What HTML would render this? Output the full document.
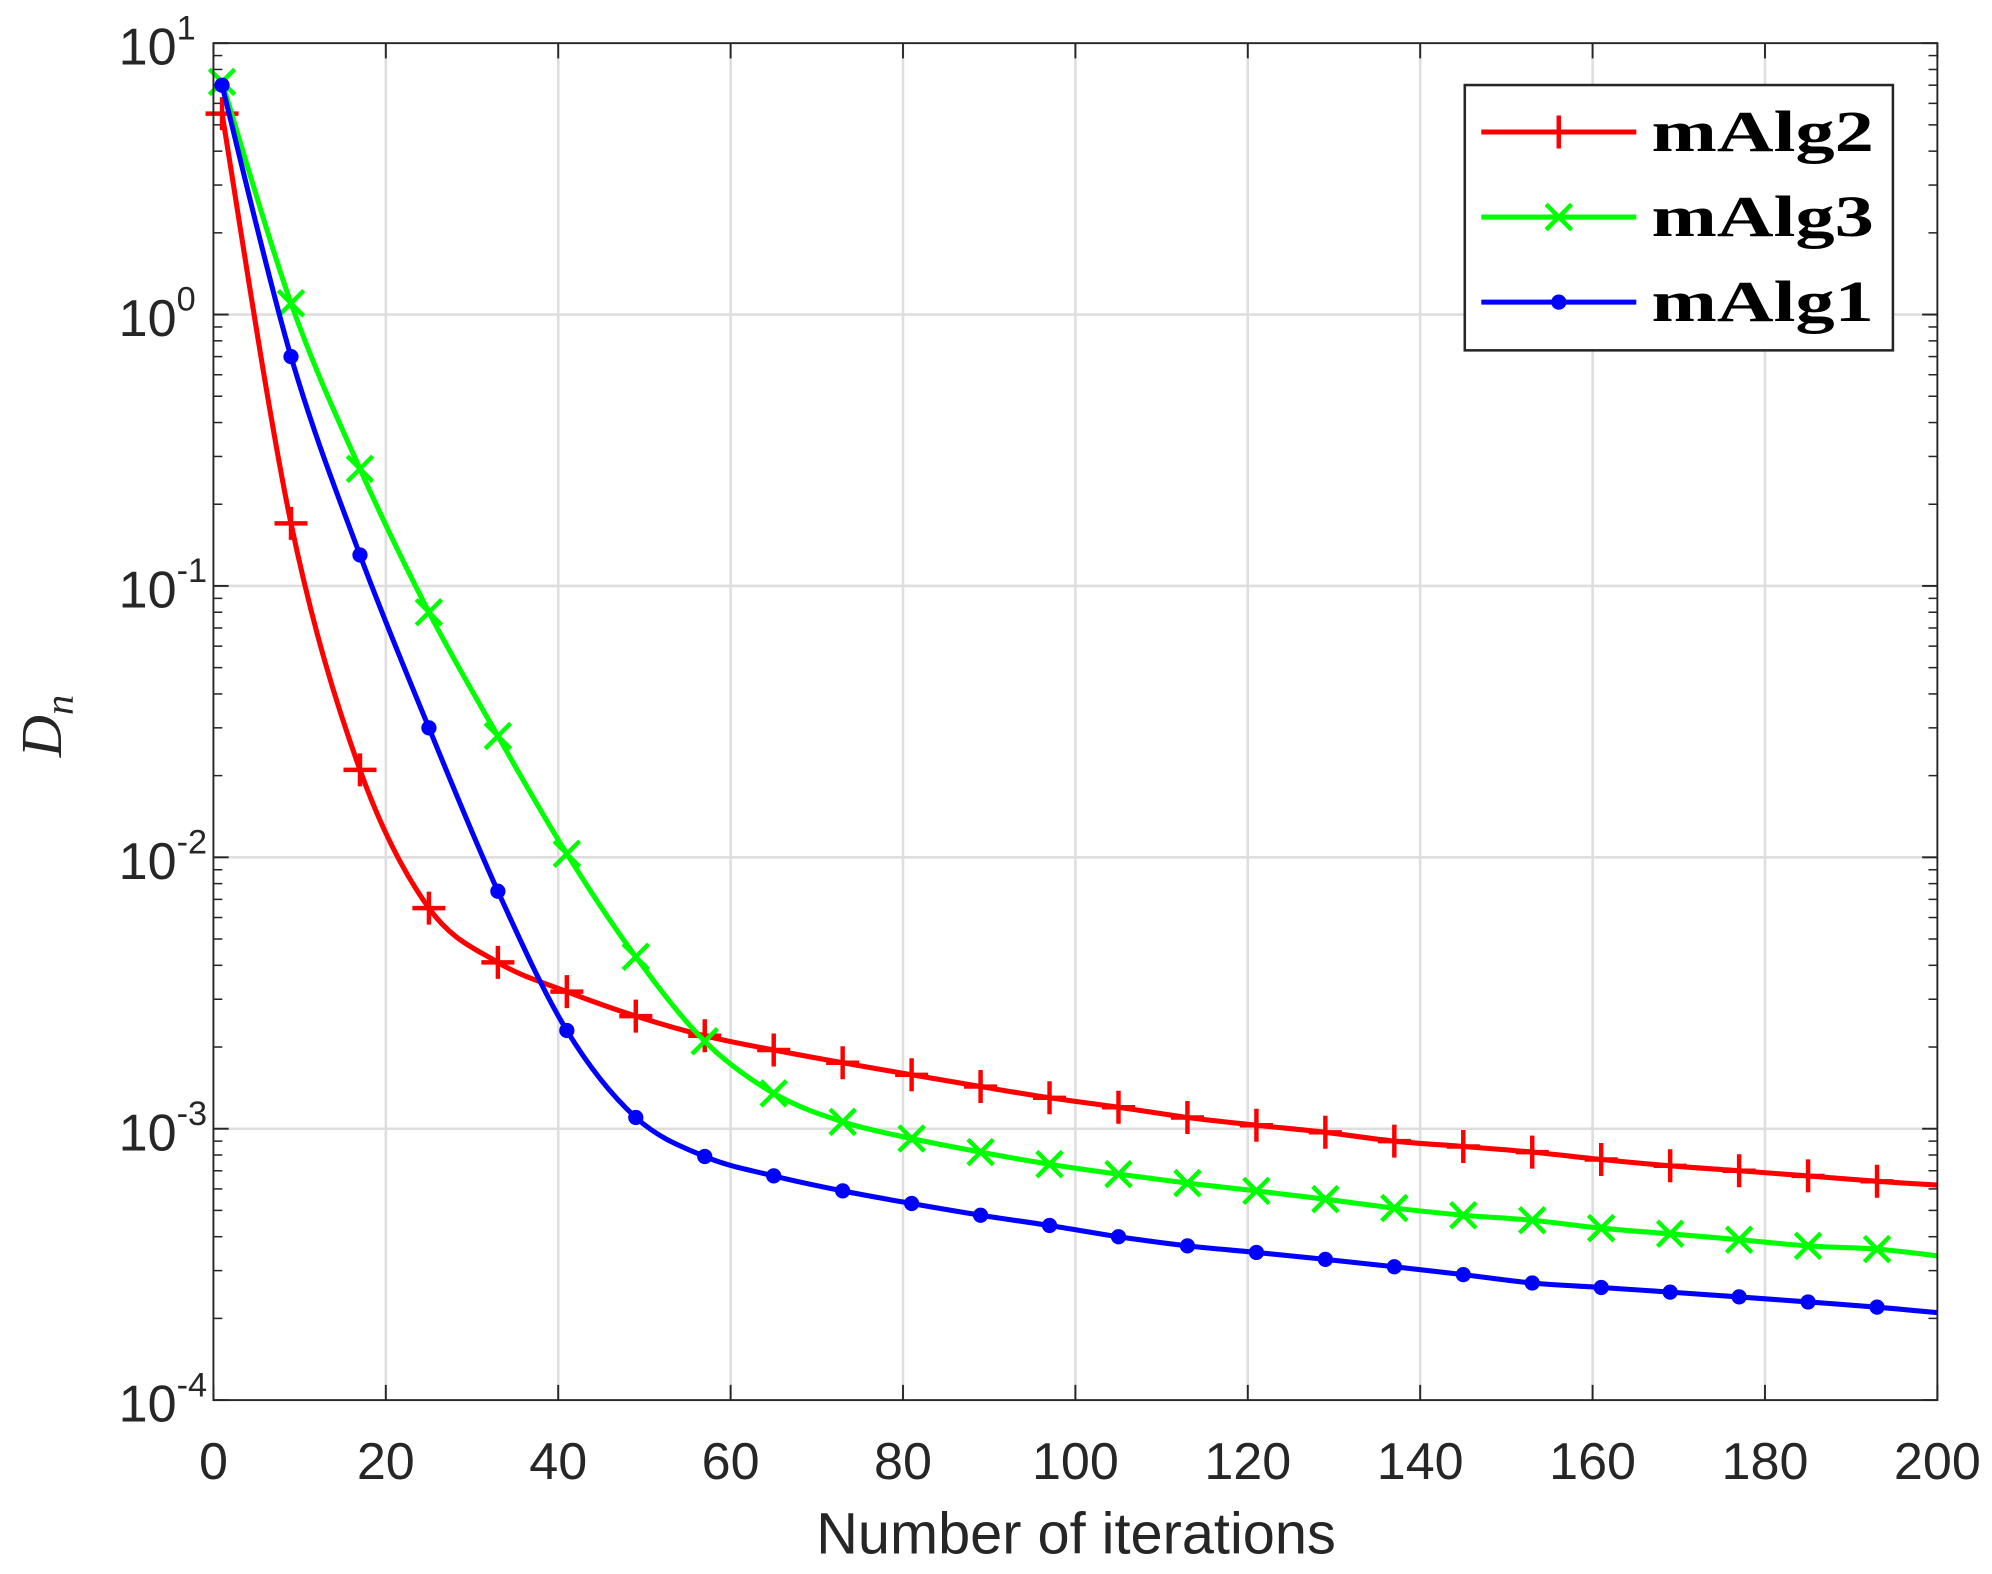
<!DOCTYPE html>
<html><head><meta charset="utf-8"><style>
html,body{margin:0;padding:0;background:#fff;}
svg{display:block;}
text{fill:#262626;}
.s{font-family:"Liberation Sans",sans-serif;}
.r{font-family:"Liberation Serif",serif;}
</style></head><body>
<svg id="s" width="1992" height="1574" viewBox="0 0 1568 1240" preserveAspectRatio="none" xmlns="http://www.w3.org/2000/svg">
<rect x="0" y="0" width="1568" height="1240" fill="#fff"/>
<g id="grid"></g>
<g id="ticks"></g>
<g id="series"></g>
<rect x="168" y="34" width="1357" height="1069" fill="none" stroke="#262626" stroke-width="1.5"/>
<g id="labels" font-size="41" class="s"></g>
<text class="s" x="847" y="1224" font-size="46" text-anchor="middle" textLength="409" lengthAdjust="spacingAndGlyphs">Number of iterations</text>
<text class="r" transform="translate(48,572) rotate(-90)" font-size="46" font-style="italic" text-anchor="middle">D<tspan font-size="32" dy="9">n</tspan></text>
<g id="legend">
<rect x="1153" y="67" width="337" height="209" fill="#fff" stroke="#262626" stroke-width="2"/>
</g>
</svg>
<script>
var NS="http://www.w3.org/2000/svg",L=168,R=1525,T=34,B=1103;
function px(x){return L+x*(R-L)/200}
function py(v){return T+(1-Math.log10(v))*(B-T)/5}
function el(p,n,a,t){var e=document.createElementNS(NS,n);for(var k in a)e.setAttribute(k,a[k]);if(t)e.textContent=t;document.getElementById(p).appendChild(e);return e}
for(var x=0;x<=200;x+=20){var X=px(x);if(x>0&&x<200)el("grid","line",{x1:X,x2:X,y1:T,y2:B,stroke:"#dedede","stroke-width":2});
el("ticks","line",{x1:X,x2:X,y1:B,y2:B-12,stroke:"#262626","stroke-width":1.5});el("ticks","line",{x1:X,x2:X,y1:T,y2:T+12,stroke:"#262626","stroke-width":1.5});
el("labels","text",{x:X,y:1165,"text-anchor":"middle"},""+x);}
for(var d=-4;d<=1;d++){var Y=py(Math.pow(10,d));if(d>-4&&d<1)el("grid","line",{x1:L,x2:R,y1:Y,y2:Y,stroke:"#dedede","stroke-width":2});
el("ticks","line",{x1:L,x2:L+12,y1:Y,y2:Y,stroke:"#262626","stroke-width":1.5});el("ticks","line",{x1:R,x2:R-12,y1:Y,y2:Y,stroke:"#262626","stroke-width":1.5});
el("labels","text",{x:139,y:Y+17,"text-anchor":"end"},"10");
el("labels","text",{x:139,y:Y-3,"font-size":27},""+d);
if(d<1)for(var m=2;m<=9;m++){var Ym=py(m*Math.pow(10,d));el("ticks","line",{x1:L,x2:L+7,y1:Ym,y2:Ym,stroke:"#262626","stroke-width":1.2});el("ticks","line",{x1:R,x2:R-7,y1:Ym,y2:Ym,stroke:"#262626","stroke-width":1.2});}}
var xs=[1,9,17,25,33,41,49,57,65,73,81,89,97,105,113,121,129,137,145,153,161,169,177,185,193,200];
var red=[5.5,0.17,0.021,0.0065,0.0041,0.0032,0.0026,0.0022,0.00195,0.00175,0.00158,0.00143,0.0013,0.0012,0.0011,0.00103,0.00097,0.0009,0.00086,0.00082,0.00077,0.00073,0.0007,0.00067,0.00064,0.00062];
var grn=[7.2,1.1,0.27,0.08,0.028,0.0103,0.0043,0.0021,0.00135,0.00106,0.00092,0.00082,0.00074,0.00068,0.00063,0.00059,0.00055,0.00051,0.00048,0.00046,0.00043,0.00041,0.00039,0.00037,0.00036,0.00034];
var blu=[7.0,0.7,0.13,0.03,0.0075,0.0023,0.0011,0.00079,0.00067,0.00059,0.00053,0.00048,0.00044,0.0004,0.00037,0.00035,0.00033,0.00031,0.00029,0.00027,0.00026,0.00025,0.00024,0.00023,0.00022,0.00021];
function path(v){var P=xs.map(function(x,i){return[px(x),py(v[i])]});var d="M"+P[0][0]+","+P[0][1];
for(var i=0;i<P.length-1;i++){var p0=P[i-1]||P[i],p1=P[i],p2=P[i+1],p3=P[i+2]||p2;
d+=" C"+(p1[0]+(p2[0]-p0[0])/6)+","+(p1[1]+(p2[1]-p0[1])/6)+" "+(p2[0]-(p3[0]-p1[0])/6)+","+(p2[1]-(p3[1]-p1[1])/6)+" "+p2[0]+","+p2[1];}return d}
function mk(g,type,c,X,Y){if(type=="+"){el(g,"path",{d:"M"+(X-13)+","+Y+"h26M"+X+","+(Y-13)+"v26",stroke:c,"stroke-width":3.5,fill:"none"})}
else if(type=="x"){el(g,"path",{d:"M"+(X-10)+","+(Y-10)+"l20,20M"+(X-10)+","+(Y+10)+"l20,-20",stroke:c,"stroke-width":3.5,fill:"none"})}
else el(g,"circle",{cx:X,cy:Y,r:6,fill:c})}
[[red,"#ff0000","+"],[grn,"#00ff00","x"],[blu,"#0000ff","o"]].forEach(function(s){
el("series","path",{d:path(s[0]),stroke:s[1],"stroke-width":4,fill:"none"});
for(var i=0;i<xs.length-1;i++)mk("series",s[2],s[1],px(xs[i]),py(s[0][i]));});
var leg=[["mAlg2","#ff0000","+",104],["mAlg3","#00ff00","x",171],["mAlg1","#0000ff","o",238]];
leg.forEach(function(l){el("legend","line",{x1:1166,x2:1288,y1:l[3],y2:l[3],stroke:l[1],"stroke-width":4});mk("legend",l[2],l[1],1227,l[3]);
el("legend","text",{"class":"r",x:1300,y:l[3]+15,"font-size":46,"font-weight":"bold",style:"fill:#000",textLength:175,lengthAdjust:"spacingAndGlyphs"},l[0]);});
</script>
</body></html>
